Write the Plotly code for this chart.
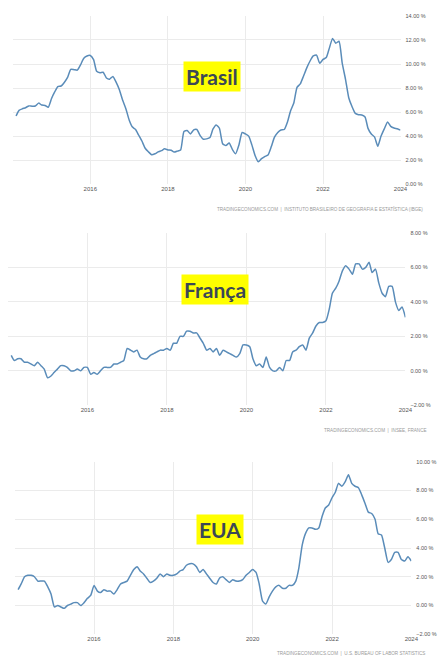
import pandas as pd
import plotly.graph_objects as go

# ---------------- data ----------------
dates = pd.date_range("2014-02-01", "2024-01-01", freq="MS")

brasil = [5.68, 6.15, 6.28, 6.37, 6.52, 6.50, 6.51, 6.75, 6.59, 6.56, 6.41,
          7.14, 7.70, 8.13, 8.17, 8.47, 8.89, 9.56, 9.53, 9.49, 9.93, 10.48, 10.67,
          10.71, 10.36, 9.39, 9.28, 9.32, 8.84, 8.74, 8.97, 8.48, 7.87, 6.99, 6.29,
          5.35, 4.76, 4.57, 4.08, 3.60, 3.00, 2.71, 2.46, 2.54, 2.70, 2.80, 2.95,
          2.86, 2.84, 2.68, 2.76, 2.86, 4.39, 4.48, 4.19, 4.53, 4.56, 4.05, 3.75,
          3.78, 3.89, 4.58, 4.94, 4.66, 3.37, 3.22, 3.43, 2.89, 2.54, 3.27, 4.31,
          4.19, 4.01, 3.30, 2.40, 1.88, 2.13, 2.31, 2.44, 3.14, 3.92, 4.31, 4.52,
          4.56, 5.20, 6.10, 6.76, 8.06, 8.35, 8.99, 9.68, 10.25, 10.67, 10.74, 10.06,
          10.38, 10.54, 11.30, 12.13, 11.73, 11.89, 10.07, 8.73, 7.17, 6.47, 5.90, 5.79,
          5.77, 5.60, 4.65, 4.18, 3.94, 3.16, 3.99, 4.61, 5.19, 4.82, 4.68, 4.62,
          4.51]

franca = [0.9, 0.6, 0.7, 0.7, 0.5, 0.5, 0.4, 0.3, 0.5, 0.3, 0.1,
          -0.4, -0.3, -0.1, 0.1, 0.3, 0.3, 0.2, 0.0, 0.0, 0.1, 0.0, 0.2,
          0.2, -0.2, -0.1, -0.2, 0.0, 0.2, 0.2, 0.2, 0.4, 0.4, 0.5, 0.6,
          1.3, 1.2, 1.1, 1.2, 0.8, 0.7, 0.7, 0.9, 1.0, 1.1, 1.2, 1.2,
          1.3, 1.2, 1.6, 1.6, 2.0, 2.0, 2.3, 2.3, 2.2, 2.2, 1.9, 1.6,
          1.2, 1.3, 1.1, 1.3, 0.9, 1.2, 1.1, 1.0, 0.9, 0.8, 1.0, 1.5,
          1.5, 1.4, 0.7, 0.3, 0.4, 0.2, 0.8, 0.2, 0.0, 0.0, 0.2, 0.0,
          0.6, 0.6, 1.1, 1.2, 1.4, 1.5, 1.2, 1.9, 2.2, 2.6, 2.8, 2.8,
          2.9, 3.6, 4.5, 4.8, 5.2, 5.8, 6.1, 5.9, 5.6, 6.2, 6.2, 5.9,
          6.0, 6.3, 5.7, 5.9, 5.1, 4.5, 4.3, 4.9, 4.9, 4.0, 3.5, 3.7,
          3.1]

eua = [1.1, 1.5, 2.0, 2.1, 2.1, 2.0, 1.7, 1.7, 1.7, 1.3, 0.8,
       -0.1, 0.0, -0.1, -0.2, 0.0, 0.1, 0.2, 0.2, 0.0, 0.2, 0.5, 0.7,
       1.4, 1.0, 0.9, 1.1, 1.0, 1.0, 0.8, 1.1, 1.5, 1.6, 1.7, 2.1,
       2.5, 2.7, 2.4, 2.2, 1.9, 1.6, 1.7, 1.9, 2.2, 2.0, 2.2, 2.1,
       2.1, 2.2, 2.4, 2.5, 2.8, 2.9, 2.9, 2.7, 2.3, 2.5, 2.2, 1.9,
       1.6, 1.5, 1.9, 2.0, 1.8, 1.6, 1.8, 1.7, 1.7, 1.8, 2.1, 2.3,
       2.5, 2.3, 1.5, 0.3, 0.1, 0.6, 1.0, 1.3, 1.4, 1.2, 1.2, 1.4,
       1.4, 1.7, 2.6, 4.2, 5.0, 5.4, 5.4, 5.3, 5.4, 6.2, 6.8, 7.0,
       7.5, 7.9, 8.5, 8.3, 8.6, 9.1, 8.5, 8.3, 8.2, 7.7, 7.1, 6.5,
       6.4, 6.0, 5.0, 4.9, 4.0, 3.0, 3.2, 3.7, 3.7, 3.2, 3.1, 3.4,
       3.1]

titles = ["Brasil", "França", "EUA"]
sources = ["TRADINGECONOMICS.COM  |  INSTITUTO BRASILEIRO DE GEOGRAFIA E ESTATÍSTICA (IBGE)",
           "TRADINGECONOMICS.COM  |  INSEE, FRANCE",
           "TRADINGECONOMICS.COM  |  U.S. BUREAU OF LABOR STATISTICS"]
x_tick_vals = ["2016-01-01", "2018-01-01", "2020-01-01", "2022-01-01", "2024-01-01"]
x_tick_text = ["2016", "2018", "2020", "2022", "2024"]
y_ranges = [[0, 14], [-2, 8], [-2, 10]]

# ---------------- layout geometry (pixels) ----------------
W, H = 439, 664
# (left, right, top, bottom) of each plot area
boxes = [(13, 407, 13, 183), (8, 412, 232, 406), (15, 418, 463, 637)]
title_pos = [(215, 74), (218, 289), (224, 531)]
source_pos = [(432, 208, "right"), (436, 431, "right"), (434, 656, "right")]

LINE = "#5a8cb9"
GRID = "#ebebeb"
XFONT = dict(family="Liberation Sans, Arial, sans-serif", size=6, color="#555555")
YFONT = dict(family="Liberation Sans, Arial, sans-serif", size=5.5, color="#555555")

fig = go.Figure()
series = [brasil, franca, eua]
for i, vals in enumerate(series):
    n = "" if i == 0 else str(i + 1)
    fig.add_trace(go.Scatter(
        x=dates, y=vals, mode="lines",
        line=dict(color=LINE, width=1.5, shape="spline", smoothing=0.5),
        xaxis="x" + n, yaxis="y" + n, showlegend=False, hoverinfo="skip"))

layout = dict(
    width=W, height=H, margin=dict(l=0, r=0, t=0, b=0),
    paper_bgcolor="white", plot_bgcolor="white", showlegend=False,
    annotations=[],
)
for i, (l, r, t, b) in enumerate(boxes):
    n = "" if i == 0 else str(i + 1)
    layout["xaxis" + n] = dict(
        domain=[l / W, r / W], anchor="y" + n, type="date",
        range=["2014-01-01", "2024-01-01"],
        tickmode="array", tickvals=x_tick_vals, ticktext=x_tick_text,
        showgrid=True, gridcolor=GRID, gridwidth=1,
        zeroline=False, showline=False, ticks="",
        tickfont=XFONT, fixedrange=True,
    )
    layout["yaxis" + n] = dict(
        domain=[1 - b / H, 1 - t / H], anchor="x" + n, side="right",
        range=y_ranges[i], dtick=2, tickformat=".2f", ticksuffix=" %",
        showgrid=True, gridcolor=GRID, gridwidth=1,
        zeroline=False, showline=False, ticks="",
        tickfont=YFONT, ticklabelstandoff=4, fixedrange=True,
    )
    cx, cy = title_pos[i]
    layout["annotations"].append(dict(
        text="<b>%s</b>" % titles[i], xref="paper", yref="paper",
        x=cx / W, y=1 - cy / H, xanchor="center", yanchor="middle",
        showarrow=False, bgcolor="#ffff00", borderpad=2,
        font=dict(family="Lato, sans-serif", size=21, color="#3b4757")))
    sx, sy, anc = source_pos[i]
    layout["annotations"].append(dict(
        text=sources[i], xref="paper", yref="paper",
        x=sx / W, y=1 - sy / H, xanchor=anc, yanchor="middle",
        showarrow=False,
        font=dict(family="Liberation Sans, Arial, sans-serif", size=4.6, color="#9a9a9a")))

fig.update_layout(**layout)
fig.write_html("out.html", config={"displayModeBar": False, "staticPlot": True},
               post_script="document.body.style.margin='0';document.body.style.overflow='hidden';")
